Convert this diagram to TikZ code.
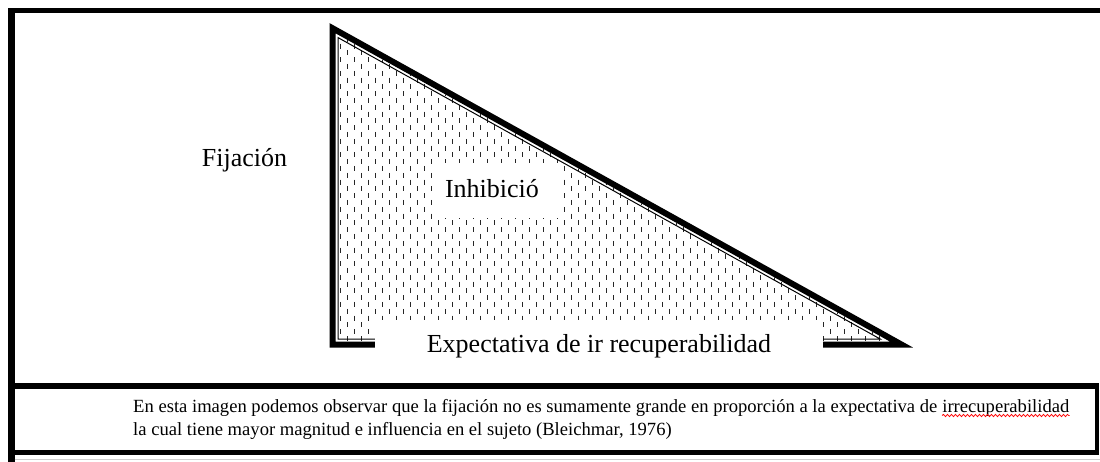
\documentclass[tikz,border=0pt]{standalone}
\usepackage{fontspec}
\setmainfont{Liberation Serif}
\usetikzlibrary{decorations.pathmorphing}
\begin{document}
\begin{tikzpicture}[x=1pt,y=-1pt,
  bar/.style={fill=black},
  bigtext/.style={font=\fontsize{26}{30}\selectfont, inner sep=0pt},
  captext/.style={font=\fontsize{18.6}{22}\selectfont, inner sep=0pt, anchor=base west},
  whitebox/.style={fill=white, inner sep=0pt},
  tick/.style={line width=0.95pt, black!85, dash pattern=on 5pt off 8.6pt},
  thickedge/.style={line width=6pt, line join=miter, miter limit=10},
  thinedge/.style={line width=1pt},
  squiggle/.style={red, line width=0.8pt, decorate, decoration={snake, amplitude=1.1pt, segment length=4pt}}
]
\useasboundingbox (0,0) rectangle (1100,462);
\fill[white] (0,0) rectangle (1100,462);
% frame
\fill[bar] (8,8) rectangle (1100,13.5);
\fill[bar] (8,8) rectangle (14.5,462);
\fill[bar] (8,383) rectangle (1098.5,389);
\fill[bar] (8,450) rectangle (1098.5,455);
\fill[bar] (1095,383) rectangle (1098.5,455);
\draw[gray!40, line width=1pt] (14.5,459.5) -- (1100,459.5);
% triangle
\coordinate (A) at (332.5,28.2);
\coordinate (B) at (901.4,344.5);
\coordinate (C) at (332.5,344.5);
\coordinate (a) at (338,37.6);
\coordinate (b) at (880.2,339);
\coordinate (c) at (338,339);
\begin{scope}
\clip (335.5,33.3) -- (889.9,341.5) -- (335.5,341.5) -- cycle;
\foreach \k in {0,...,78} {
  \pgfmathsetmacro\xx{340+7*\k}
  \pgfmathsetmacro\ph{mod(\k,2)*6.8}
  \draw[tick] (\xx,{30-\ph}) -- (\xx,345);
}
\end{scope}
\draw[thinedge] (a) -- (b) -- (c) -- cycle;
\draw[thickedge] (A) -- (B) -- (C) -- cycle;
% white boxes and labels
\node[whitebox, minimum width=127pt, minimum height=55pt] (inhbox) at (496.5,190.5) {};
\node[bigtext, anchor=base] (inh) at (492,198) {Inhibició};
\node[whitebox, minimum width=448pt, minimum height=45pt] (expbox) at (599,342.5) {};
\node[bigtext, anchor=base] (exp) at (599,352) {Expectativa de ir recuperabilidad};
\node[bigtext, anchor=base] (fij) at (244.5,166.7) {Fijación};
% caption
\node[captext] (l1) at (133,412) {En esta imagen podemos observar que la fijación no es sumamente grande en proporción a la expectativa de};
\node[captext, xshift=4.6pt] (w) at (l1.base east) {irrecuperabilidad};
\draw[squiggle] ([yshift=-3.5pt]w.base west) -- ([yshift=-3.5pt]w.base east);
\node[captext] (l2) at (133,435) {la cual tiene mayor magnitud e influencia en el sujeto (Bleichmar, 1976)};
\end{tikzpicture}
\end{document}
